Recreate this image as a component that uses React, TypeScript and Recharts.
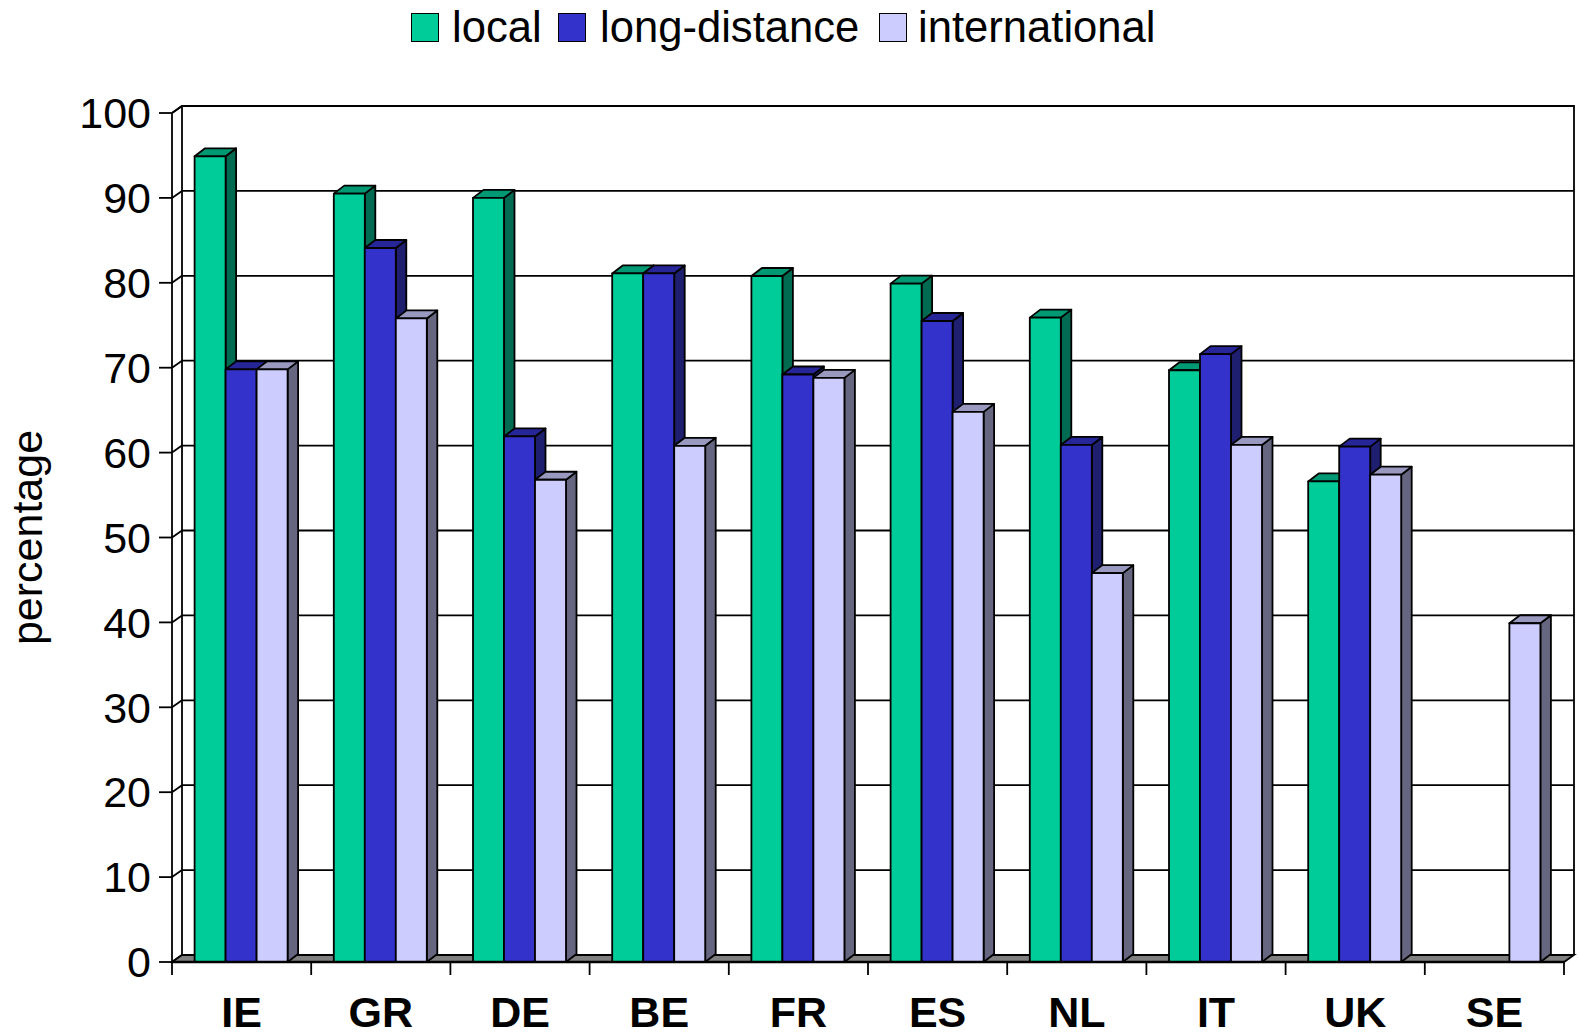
import { BarChart, Bar, CartesianGrid, XAxis, YAxis, Legend } from "recharts";

const countries = ["IE", "GR", "DE", "BE", "FR", "ES", "NL", "IT", "UK", "SE"];
const localValues = [94.9, 90.5, 90, 81.1, 80.8, 79.9, 75.9, 69.7, 56.6, null];
const longDistanceValues = [69.8, 84.1, 61.9, 81.1, 69.2, 75.5, 60.9, 71.6, 60.7, null];
const internationalValues = [69.8, 75.8, 56.8, 60.8, 68.8, 64.8, 45.8, 60.9, 57.4, 39.9];
const yTicks = [0, 10, 20, 30, 40, 50, 60, 70, 80, 90, 100];

const data = countries.map((country, i) => ({
  country,
  local: localValues[i],
  longDistance: longDistanceValues[i],
  international: internationalValues[i],
}));

const WIDTH = 1580;
const HEIGHT = 1034;
const LEFT = 172;
const RIGHT = 1564;
const TOP = 113;
const BOTTOM = 962;
const LEGEND_H = 60;
const DX = 10;
const DY = 7;
const BAR_DX = 10.5;
const BAR_DY = 8;
const FONT = "'Liberation Sans', Arial, sans-serif";

const Bar3D = (props: any) => {
  const { x, y, width, height, fill, side, top } = props;
  if (!height || height <= 0) return null;
  const common = { stroke: "#000", strokeWidth: 1.8, strokeLinejoin: "round" as const };
  return (
    <g>
      <polygon
        points={`${x + width},${y} ${x + width + BAR_DX},${y - BAR_DY} ${x + width + BAR_DX},${y + height - BAR_DY} ${x + width},${y + height}`}
        fill={side}
        {...common}
      />
      <polygon
        points={`${x},${y} ${x + BAR_DX},${y - BAR_DY} ${x + width + BAR_DX},${y - BAR_DY} ${x + width},${y}`}
        fill={top}
        {...common}
      />
      <rect x={x} y={y} width={width} height={height} fill={fill} {...common} />
    </g>
  );
};

const Walls = () => (
  <g>
    <polygon
      points={`${LEFT},${BOTTOM} ${LEFT + DX},${BOTTOM - DY} ${RIGHT + DX},${BOTTOM - DY} ${RIGHT},${BOTTOM}`}
      fill="#808080"
      stroke="#000"
      strokeWidth={1.8}
    />
    <polyline
      points={`${LEFT},${TOP} ${LEFT + DX},${TOP - DY} ${RIGHT + DX},${TOP - DY} ${RIGHT + DX},${BOTTOM - DY}`}
      fill="none"
      stroke="#000"
      strokeWidth={1.8}
    />
    <line x1={LEFT + DX} y1={TOP - DY} x2={LEFT + DX} y2={BOTTOM - DY} stroke="#000" strokeWidth={1.8} />
  </g>
);

const GridLine = (props: any) => {
  const { x1, x2, y1 } = props;
  return (
    <g>
      <line x1={x1} y1={y1} x2={x1 + DX} y2={y1 - DY} stroke="#000" strokeWidth={1.8} />
      <line x1={x1 + DX} y1={y1 - DY} x2={x2 + DX} y2={y1 - DY} stroke="#000" strokeWidth={1.8} />
    </g>
  );
};

const CountryTick = (props: any) => {
  const { x, payload, index } = props;
  const band = (RIGHT - LEFT) / countries.length;
  return (
    <g>
      <line x1={x - band / 2} y1={BOTTOM} x2={x - band / 2} y2={BOTTOM + 13} stroke="#000" strokeWidth={1.8} />
      {index === countries.length - 1 && (
        <line x1={x + band / 2} y1={BOTTOM} x2={x + band / 2} y2={BOTTOM + 13} stroke="#000" strokeWidth={1.8} />
      )}
      <text x={x} y={BOTTOM + 65} textAnchor="middle" fontFamily={FONT} fontWeight="bold" fontSize={43} fill="#000">
        {payload.value}
      </text>
    </g>
  );
};

const LegendRow = ({ payload }: any) => (
  <div style={{ position: "relative", width: WIDTH, height: LEGEND_H, fontFamily: FONT, fontSize: 43.6 }}>
    {(payload || []).map((entry: any, i: number) => (
      <span key={entry.value}>
        <span
          style={{
            position: "absolute",
            left: [411, 558, 879][i],
            top: 13,
            width: 26,
            height: 27,
            background: entry.color,
            border: "1.8px solid #000",
          }}
        />
        <span style={{ position: "absolute", left: [452, 600, 918][i], top: 2, lineHeight: "50px", whiteSpace: "nowrap" }}>
          {entry.value}
        </span>
      </span>
    ))}
  </div>
);

const App = () => {
  return (
    <div style={{ position: "absolute", left: 0, top: 0, width: WIDTH, height: HEIGHT, overflow: "hidden", background: "#fff" }}>
      <BarChart
        width={WIDTH}
        height={HEIGHT}
        data={data}
        margin={{ top: TOP - LEGEND_H, right: WIDTH - RIGHT, bottom: 0, left: 0 }}
        barGap={0}
        barCategoryGap={22.6}
      >
        <Walls />
        <CartesianGrid vertical={false} horizontal={(p: any) => <GridLine {...p} />} />
        <XAxis
          dataKey="country"
          height={HEIGHT - BOTTOM}
          axisLine={{ stroke: "#000", strokeWidth: 2.5 }}
          tickLine={false}
          interval={0}
          tick={<CountryTick />}
        />
        <YAxis
          width={LEFT}
          domain={[0, 100]}
          ticks={yTicks}
          interval={0}
          axisLine={{ stroke: "#000", strokeWidth: 1.8 }}
          tickLine={{ stroke: "#000", strokeWidth: 1.8 }}
          tickSize={13}
          tickMargin={8}
          tick={{ fill: "#000", fontFamily: FONT, fontSize: 43 }}
          label={{
            value: "percentage",
            angle: -90,
            position: "insideLeft",
            offset: 0,
            dx: 27,
            dy: 0,
            style: { fill: "#000", fontFamily: FONT, fontSize: 43, textAnchor: "middle" },
          }}
        />
        <Legend verticalAlign="top" align="left" wrapperStyle={{ top: 0, left: 0 }} itemSorter={null} content={<LegendRow />} />
        <Bar
          dataKey="local"
          name="local"
          fill="#00CC99"
          isAnimationActive={false}
          shape={(p: any) => <Bar3D {...p} side="#006B50" top="#009973" />}
        />
        <Bar
          dataKey="longDistance"
          name="long-distance"
          fill="#3333CC"
          isAnimationActive={false}
          shape={(p: any) => <Bar3D {...p} side="#1F1F70" top="#262699" />}
        />
        <Bar
          dataKey="international"
          name="international"
          fill="#CCCCFF"
          isAnimationActive={false}
          shape={(p: any) => <Bar3D {...p} side="#666680" top="#9999C0" />}
        />
      </BarChart>
    </div>
  );
};

export default App;
